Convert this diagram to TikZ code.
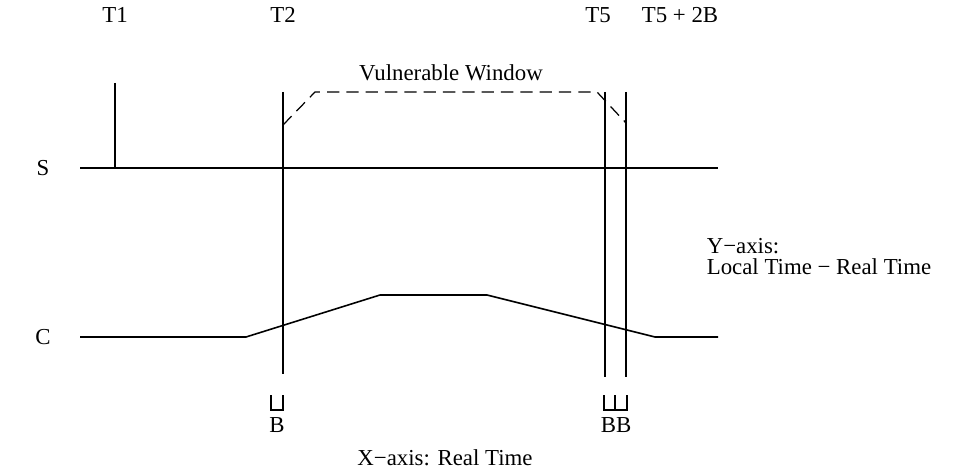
\documentclass[tikz,border=0pt]{standalone}
\usepackage{fontspec}
\setmainfont{Liberation Serif}
\usepackage{tikz}

\begin{document}
\begin{tikzpicture}[x=0.02cm, y=-0.02cm, line width=0.9pt,
  lbl/.style={inner sep=0pt, font=\fontsize{13}{15}\selectfont},
  win/.style={dashed, line width=0.7pt, dash pattern=on 7pt off 4pt}]

\useasboundingbox (0,0) rectangle (972,469);

% 定义坐标
\coordinate (s0) at (80,168);   \coordinate (s1) at (718,168);
\coordinate (t1top) at (115,83); \coordinate (t1bot) at (115,168);
\coordinate (t2top) at (283,92); \coordinate (t2bot) at (283,374);
\coordinate (t5top) at (605,92); \coordinate (t5bot) at (605,377);
\coordinate (t6top) at (626,92); \coordinate (t6bot) at (626,377);
\coordinate (c0) at (80,337);  \coordinate (c1) at (246,337);
\coordinate (c2) at (380,295); \coordinate (c3) at (487,295);
\coordinate (c4) at (655,337); \coordinate (c5) at (718,337);
\coordinate (w0) at (283,125); \coordinate (w1) at (315,92);
\coordinate (w2) at (597,92);  \coordinate (w3) at (626,123);

% 文字
\node[lbl] (lT1) at (115,15) {T1};
\node[lbl] (lT2) at (283,15) {T2};
\node[lbl] (lT5) at (598,15) {T5};
\node[lbl] (lT52B) at (680,15) {T5 + 2B};
\node[lbl] (lS) at (43,168) {S};
\node[lbl] (lC) at (43,337) {C};
\node[lbl] (lwin) at (451,73) {Vulnerable Window};
\node[lbl, anchor=base west] (ly1) at (706,254) {Y−axis:};
\node[lbl, anchor=base west] (ly2) at (706,275) {Local Time − Real Time};
\node[lbl] (lx) at (445,458) {X−axis: Real Time};
\node[lbl] (lB) at (277,425) {B};
\node[lbl] (lBB) at (616,425) {BB};

% 时间线
\draw (s0) -- (s1);
\draw (t1top) -- (t1bot);
\draw (t2top) -- (t2bot);
\draw (t5top) -- (t5bot);
\draw (t6top) -- (t6bot);
\draw (c0) -- (c1) -- (c2) -- (c3) -- (c4) -- (c5);
\draw[win] (w0) -- (w1) -- (w2) -- (w3);

% B 区间
\draw[line width=0.7pt] (271,395) -- (271,410) -- (283,410) -- (283,395);
\draw[line width=0.7pt] (604,395) -- (604,410) -- (627,410) -- (627,395);
\draw[line width=0.7pt] (615,395) -- (615,410);

\end{tikzpicture}
\end{document}
